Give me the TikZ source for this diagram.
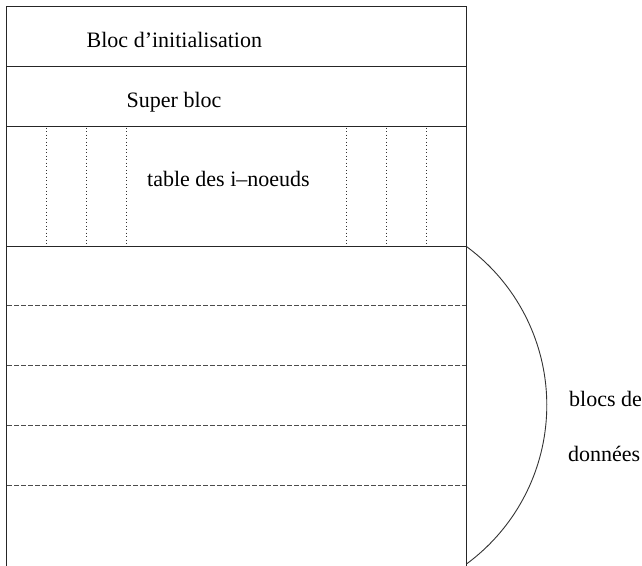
\documentclass[tikz,border=0pt]{standalone}
\usepackage{fontspec}
\setmainfont{Liberation Serif}
\begin{document}
\begin{tikzpicture}[x=1pt,y=1pt,
  frame/.style={draw=black!85,line width=1.1pt},
  dotline/.style={draw=black!80,line width=0.9pt,dash pattern=on 1.3pt off 2.2pt},
  dashline/.style={draw=black!70,line width=1pt,dash pattern=on 4.5pt off 2.5pt},
  lbl/.style={anchor=base west,inner sep=0pt,font=\fontsize{22}{26}\selectfont}]
\useasboundingbox (0,0) rectangle (642,-565);
% outer frame and solid separators
\draw[frame] (6.7,-570) -- (6.7,-6.7) -- (466.7,-6.7) -- (466.7,-570);
\draw[frame] (6.7,-66.7) -- (466.7,-66.7);
\draw[frame] (6.7,-126.7) -- (466.7,-126.7);
\draw[frame] (6.7,-246.7) -- (466.7,-246.7);
% dotted vertical lines in the i-node table
\foreach \x in {46.7,86.7,126.7,346.7,386.7,426.7}
  \draw[dotline] (\x,-127.5) -- (\x,-246);
% dashed data block separators
\foreach \y in {305.7,365.7,425.7,485.7}
  \draw[dashline] (7,-\y) -- (466,-\y);
% brace-like arc
\draw[draw=black!80,line width=0.9pt] (466.7,-246.7) arc[start angle=53.6,end angle=-53.6,radius=197pt];
% labels
\node[lbl] (init) at (86.5,-47.3) {Bloc d’initialisation};
\node[lbl] (super) at (126.5,-107.7) {Super bloc};
\node[lbl] (table) at (147,-186.7) {table des i–noeuds};
\node[lbl] (blocs) at (569,-406.7) {blocs de};
\node[lbl] (donnees) at (568,-461.7) {données};
\end{tikzpicture}
\end{document}
